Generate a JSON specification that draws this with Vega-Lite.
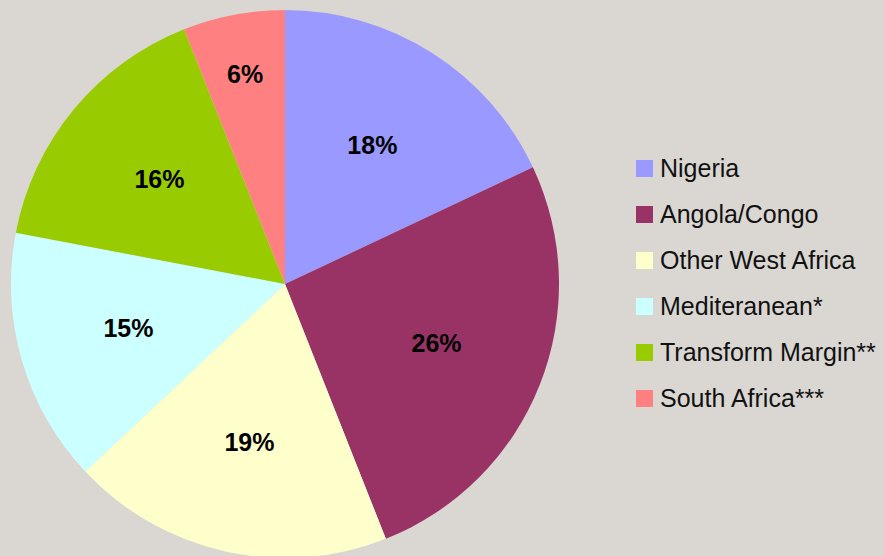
{
  "$schema": "https://vega.github.io/schema/vega-lite/v6.json",
  "width": 570,
  "height": 546,
  "padding": {"top": 10, "left": 0, "right": 8, "bottom": 0},
  "background": "#dad7d2",
  "config": {"view": {"stroke": null}},
  "data": {
    "values": [
      {"region": "Nigeria", "share": 0.18, "order": 1},
      {"region": "Angola/Congo", "share": 0.26, "order": 2},
      {"region": "Other West Africa", "share": 0.19, "order": 3},
      {"region": "Mediteranean*", "share": 0.15, "order": 4},
      {"region": "Transform Margin**", "share": 0.16, "order": 5},
      {"region": "South Africa***", "share": 0.06, "order": 6}
    ]
  },
  "encoding": {
    "theta": {"field": "share", "type": "quantitative", "stack": true},
    "order": {"field": "order", "type": "quantitative"}
  },
  "layer": [
    {
      "mark": {"type": "arc", "outerRadius": 274},
      "encoding": {
        "color": {
          "field": "region",
          "type": "nominal",
          "sort": ["Nigeria", "Angola/Congo", "Other West Africa", "Mediteranean*", "Transform Margin**", "South Africa***"],
          "scale": {
            "domain": ["Nigeria", "Angola/Congo", "Other West Africa", "Mediteranean*", "Transform Margin**", "South Africa***"],
            "range": ["#9999ff", "#993366", "#ffffcc", "#ccffff", "#99cc00", "#ff8080"]
          },
          "legend": {
            "title": null,
            "orient": "none",
            "legendX": 632,
            "legendY": 145,
            "symbolType": "square",
            "symbolSize": 289,
            "symbolStrokeWidth": 0,
            "symbolOpacity": 1,
            "labelFont": "Liberation Sans",
            "labelFontSize": 25,
            "labelColor": "#111111",
            "labelOffset": 3,
            "rowPadding": 20,
            "labelLimit": 300
          }
        }
      }
    },
    {
      "mark": {
        "type": "text",
        "radius": {"expr": "datum.share < 0.1 ? 213 : 163"},
        "font": "Liberation Sans",
        "fontWeight": "bold",
        "fontSize": 25,
        "color": "#000000"
      },
      "encoding": {
        "text": {"field": "share", "type": "quantitative", "format": ".0%"}
      }
    }
  ]
}
